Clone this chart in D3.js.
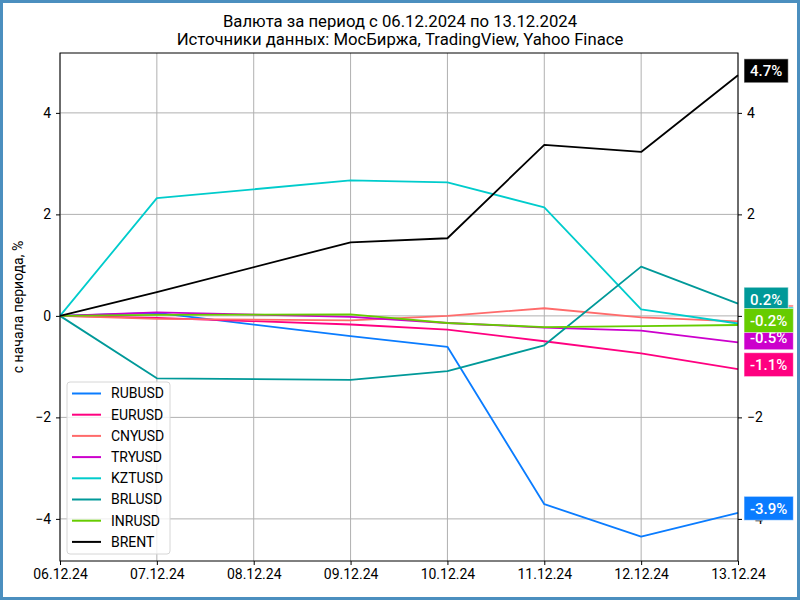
<!DOCTYPE html>
<html>
<head>
<meta charset="utf-8">
<script src="https://cdn.jsdelivr.net/npm/d3@7"></script>
<style>
    html, body { margin: 0; padding: 0; background: #fff; }
    #chart { width: 800px; height: 600px; }
    text { font-family: Roboto, "DejaVu Sans", sans-serif; }
</style>
</head>
<body>
<div id="chart"></div>
<script>
(function() {
    'use strict';

    // data
    var dates = ['2024-12-06', '2024-12-07', '2024-12-09', '2024-12-10', '2024-12-11', '2024-12-12', '2024-12-13'];
    var names = ['RUBUSD', 'EURUSD', 'CNYUSD', 'TRYUSD', 'KZTUSD', 'BRLUSD', 'INRUSD', 'BRENT'];
    var colors = ['#0a7cff', '#ff0080', '#ff6b6b', '#cc00cc', '#00cccc', '#009999', '#66cc00', '#000000'];
    var rubusd = [0, 0.06, -0.40, -0.61, -3.71, -4.35, -3.88];
    var eurusd = [0, -0.04, -0.17, -0.27, -0.50, -0.74, -1.05];
    var cnyusd = [0, -0.06, -0.09, 0.00, 0.15, -0.03, -0.11];
    var tryusd = [0, 0.07, -0.02, -0.14, -0.23, -0.29, -0.52];
    var kztusd = [0, 2.32, 2.67, 2.63, 2.14, 0.13, -0.15];
    var brlusd = [0, -1.23, -1.26, -1.09, -0.58, 0.97, 0.24];
    var inrusd = [0, 0.02, 0.03, -0.14, -0.22, -0.20, -0.18];
    var brent = [0, 0.47, 1.45, 1.53, 3.37, 3.23, 4.74];
    var values = [rubusd, eurusd, cnyusd, tryusd, kztusd, brlusd, inrusd, brent];
    var yTicks = [-4, -2, 0, 2, 4];
    var title1 = 'Валюта за период с 06.12.2024 по 13.12.2024';
    var title2 = 'Источники данных: МосБиржа, TradingView, Yahoo Finace';
    var yLabel = 'с начала периода, %';

    var W = 800, H = 600;
    var left = 60, right = 738, top = 53, bottom = 561;

    var parse = d3.timeParse('%Y-%m-%d');
    var fmt = d3.timeFormat('%d.%m.%y');
    var xDates = dates.map(parse);

    var x = d3.scaleTime().domain([xDates[0], xDates[xDates.length - 1]]).range([left, right]);
    var y = d3.scaleLinear().domain([-4.83, 5.18]).range([bottom, top]);

    var svg = d3.select('#chart').append('svg').attr('width', W).attr('height', H);

    // figure frame
    svg.append('rect').attr('x', 1.5).attr('y', 1.5).attr('width', W - 3).attr('height', H - 3)
        .attr('fill', '#fff').attr('stroke', '#4b8fbf').attr('stroke-width', 3);

    // titles
    svg.append('text').attr('x', 400).attr('y', 27).attr('text-anchor', 'middle')
        .attr('font-size', '16.7px').text(title1);
    svg.append('text').attr('x', 400).attr('y', 45).attr('text-anchor', 'middle')
        .attr('font-size', '16.7px').text(title2);

    // grid
    var dayTicks = d3.timeDay.range(xDates[0], d3.timeDay.offset(xDates[xDates.length - 1], 1));
    var grid = svg.append('g');
    grid.selectAll('line.v').data(dayTicks).enter().append('line')
        .attr('x1', function(d) { return x(d); }).attr('x2', function(d) { return x(d); })
        .attr('y1', top).attr('y2', bottom)
        .attr('stroke', '#b0b0b0').attr('stroke-width', 1);
    grid.selectAll('line.h').data(yTicks).enter().append('line')
        .attr('x1', left).attr('x2', right)
        .attr('y1', function(d) { return y(d); }).attr('y2', function(d) { return y(d); })
        .attr('stroke', '#b0b0b0').attr('stroke-width', 1);

    // axes
    var minus = function(d) { return d < 0 ? '\u2212' + (-d) : d; };
    var xAxis = d3.axisBottom(x).tickValues(dayTicks).tickFormat(fmt).tickSizeOuter(0).tickSize(4).tickPadding(4);
    var yAxisL = d3.axisLeft(y).tickValues(yTicks).tickFormat(minus).tickSizeOuter(0).tickSize(4).tickPadding(5);
    var yAxisR = d3.axisRight(y).tickValues(yTicks).tickFormat(minus).tickSizeOuter(0).tickSize(4).tickPadding(5);

    function style(g) {
        g.select('.domain').remove();
        g.selectAll('text').attr('font-size', '14px').attr('fill', '#000')
            .style('font-family', 'Roboto, "DejaVu Sans", sans-serif');
        g.selectAll('line').attr('stroke', '#000');
    }
    svg.append('g').attr('transform', 'translate(0,' + bottom + ')').call(xAxis).call(style);
    svg.append('g').attr('transform', 'translate(' + left + ',0)').call(yAxisL).call(style);
    svg.append('g').attr('transform', 'translate(' + right + ',0)').call(yAxisR).call(style);

    // y label
    svg.append('text').attr('transform', 'translate(23,' + ((top + bottom) / 2) + ') rotate(-90)')
        .attr('text-anchor', 'middle').attr('font-size', '14px').text(yLabel);

    // lines
    var line = d3.line()
        .x(function(d, i) { return x(xDates[i]); })
        .y(function(d) { return y(d); });
    var plot = svg.append('g');
    values.forEach(function(v, i) {
        plot.append('path').datum(v).attr('d', line)
            .attr('fill', 'none').attr('stroke', colors[i]).attr('stroke-width', 1.8)
            .attr('stroke-linejoin', 'round');
    });

    // frame
    svg.append('rect').attr('x', left).attr('y', top).attr('width', right - left).attr('height', bottom - top)
        .attr('fill', 'none').attr('stroke', '#000').attr('stroke-width', 1);

    // end labels
    var labels = svg.append('g');
    values.forEach(function(v, i) {
        var last = v[v.length - 1];
        var g = labels.append('g').attr('transform', 'translate(750,' + (y(last) - 4.5) + ')');
        var txt = g.append('text').attr('x', 0).attr('y', 0).attr('dy', '0.36em')
            .attr('font-size', '15px').attr('font-weight', 500).attr('fill', '#fff')
            .text(last.toFixed(1) + '%');
        var bb = txt.node().getBBox();
        g.insert('rect', 'text').attr('x', -6).attr('y', -12)
            .attr('width', bb.width + 12).attr('height', 24)
            .attr('fill', colors[i]).attr('stroke', '#fff').attr('stroke-opacity', 0.6).attr('stroke-width', 1);
    });

    // legend
    var legend = svg.append('g').attr('transform', 'translate(67,382)');
    legend.append('rect').attr('x', 0).attr('y', 0).attr('width', 103).attr('height', 172).attr('rx', 3)
        .attr('fill', '#fff').attr('fill-opacity', 0.8).attr('stroke', '#d6d6d6').attr('stroke-width', 1);
    names.forEach(function(n, i) {
        var ly = 11.5 + i * 21.2;
        legend.append('line').attr('x1', 5).attr('x2', 34).attr('y1', ly).attr('y2', ly)
            .attr('stroke', colors[i]).attr('stroke-width', 2);
        legend.append('text').attr('x', 44).attr('y', ly).attr('dy', '0.35em')
            .attr('font-size', '14px').text(n);
    });
})();
</script>
</body>
</html>
